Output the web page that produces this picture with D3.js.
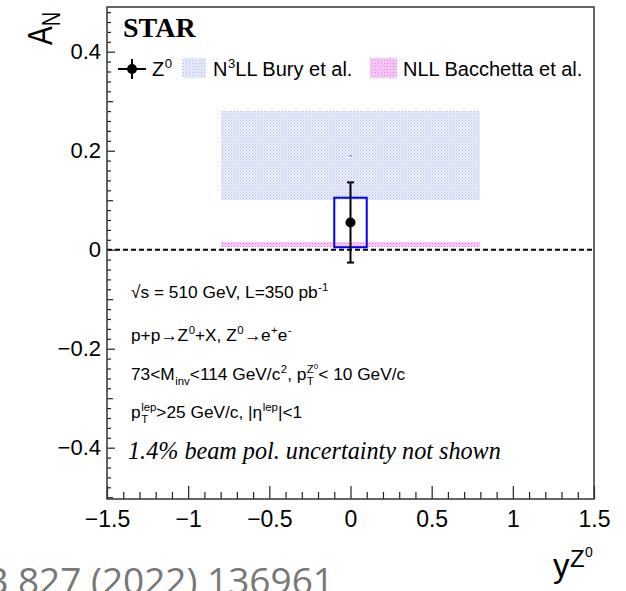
<!DOCTYPE html>
<html>
<head>
<meta charset="utf-8">
<script src="https://cdn.jsdelivr.net/npm/d3@7"></script>
<style>
  html, body { margin: 0; padding: 0; background: #fff; }
  svg { display: block; }
</style>
</head>
<body>
<svg id="chart" width="626" height="591"></svg>
<script>
// Z0 transverse single-spin asymmetry vs boson rapidity
const rapidity   = [0];
const asymmetry  = [0.055];
const statError  = [0.081];
const sysError   = [0.05];
const binHalf    = [0.1];

// theory bands: [yMin, yMax] in rapidity, [low, high] in A_N
const buryRange       = [-0.8, 0.8];
const buryBand        = [0.10, 0.28];
const buryCentral     = [0.19];
const bacchettaRange  = [-0.8, 0.8];
const bacchettaBand   = [0.005, 0.015];

const xMajorTicks = [-1.5, -1, -0.5, 0, 0.5, 1, 1.5];
const yMajorTicks = [-0.4, -0.2, 0, 0.2, 0.4];

const svg = d3.select("#chart");
const frame = { left: 107, right: 594, top: 7, bottom: 499 };

const x = d3.scaleLinear().domain([-1.5, 1.5]).range([frame.left, frame.right]);
const y = d3.scaleLinear().domain([-0.4, 0.4]).range([447.7, 51.7]);

// fill patterns for the model bands
const defs = svg.append("defs");
function dotPattern(id, bg, dot) {
  const p = defs.append("pattern").attr("id", id)
    .attr("width", 3).attr("height", 3).attr("patternUnits", "userSpaceOnUse");
  p.append("rect").attr("width", 3).attr("height", 3).attr("fill", bg);
  p.append("rect").attr("x", 0).attr("y", 0).attr("width", 1).attr("height", 1).attr("fill", dot);
  p.append("rect").attr("x", 1.5).attr("y", 1.5).attr("width", 1).attr("height", 1).attr("fill", dot);
}
dotPattern("buryFill", "#eef1fd", "#a9b7f3");
dotPattern("bacFill", "#fbd6fb", "#f06cf0");

const plot = svg.append("g");

// Bury et al. band
plot.append("rect")
  .attr("x", x(buryRange[0])).attr("width", x(buryRange[1]) - x(buryRange[0]))
  .attr("y", y(buryBand[1])).attr("height", y(buryBand[0]) - y(buryBand[1]))
  .attr("fill", "url(#buryFill)").attr("shape-rendering", "crispEdges");
plot.append("line")
  .attr("x1", x(0) - 1).attr("x2", x(0) + 1)
  .attr("y1", y(buryCentral[0])).attr("y2", y(buryCentral[0]))
  .attr("stroke", "#3a55e0").attr("stroke-width", 1);

// Bacchetta et al. band
plot.append("rect")
  .attr("x", x(bacchettaRange[0])).attr("width", x(bacchettaRange[1]) - x(bacchettaRange[0]))
  .attr("y", y(bacchettaBand[1])).attr("height", y(bacchettaBand[0]) - y(bacchettaBand[1]))
  .attr("fill", "url(#bacFill)").attr("shape-rendering", "crispEdges");

// zero line
plot.append("line")
  .attr("x1", frame.left).attr("x2", frame.right)
  .attr("y1", y(0)).attr("y2", y(0))
  .attr("stroke", "#000").attr("stroke-width", 2).attr("stroke-dasharray", "5,3");

// systematic box
plot.selectAll(".sys").data(rapidity).join("rect")
  .attr("x", (d, i) => x(d - binHalf[i]))
  .attr("width", (d, i) => x(d + binHalf[i]) - x(d - binHalf[i]))
  .attr("y", (d, i) => y(asymmetry[i] + sysError[i]))
  .attr("height", (d, i) => y(asymmetry[i] - sysError[i]) - y(asymmetry[i] + sysError[i]))
  .attr("fill", "none").attr("stroke", "#0000ff").attr("stroke-width", 2);

// statistical error bars
const pts = plot.selectAll(".pt").data(rapidity).join("g");
pts.append("line")
  .attr("x1", d => x(d)).attr("x2", d => x(d))
  .attr("y1", (d, i) => y(asymmetry[i] + statError[i]))
  .attr("y2", (d, i) => y(asymmetry[i] - statError[i]))
  .attr("stroke", "#000").attr("stroke-width", 2);
[1, -1].forEach(s => {
  pts.append("line")
    .attr("x1", d => x(d) - 3.5).attr("x2", d => x(d) + 3.5)
    .attr("y1", (d, i) => y(asymmetry[i] + s * statError[i]))
    .attr("y2", (d, i) => y(asymmetry[i] + s * statError[i]))
    .attr("stroke", "#000").attr("stroke-width", 2);
});
pts.append("circle")
  .attr("cx", d => x(d)).attr("cy", (d, i) => y(asymmetry[i]))
  .attr("r", 5).attr("fill", "#000");

// axes (ticks pointing inside the frame)
const fmt = d3.format("~g");
const xMinor = d3.range(-15, 16).map(v => v / 10).filter(v => !xMajorTicks.some(m => Math.abs(m - v) < 1e-9));
const yMid = [-0.5, -0.3, -0.1, 0.1, 0.3];
const yMinor = d3.range(-25, 25).map(v => v / 50)
  .filter(v => v >= -0.5 && v <= 0.49)
  .filter(v => !yMajorTicks.concat(yMid).some(m => Math.abs(m - v) < 1e-9));

function styleAxis(g, size) {
  g.select(".domain").remove();
  g.selectAll("line").attr("stroke", "#222").attr("stroke-width", 1.2);
  g.selectAll("text").attr("font-size", size).attr("fill", "#000")
    .attr("font-family", "'Liberation Sans', Arial, Helvetica, sans-serif");
}

svg.append("g").attr("transform", `translate(0,${frame.bottom})`)
  .call(d3.axisBottom(x).tickValues(xMajorTicks).tickSize(-13).tickPadding(12).tickFormat(fmt))
  .call(g => styleAxis(g, 23));
svg.append("g").attr("transform", `translate(0,${frame.bottom})`)
  .call(d3.axisBottom(x).tickValues(xMinor).tickSize(-7).tickFormat(""))
  .call(g => styleAxis(g, 0));

svg.append("g").attr("transform", `translate(${frame.left},0)`)
  .call(d3.axisLeft(y).tickValues(yMajorTicks).tickSize(-8).tickPadding(6).tickFormat(fmt))
  .call(g => styleAxis(g, 22));
svg.append("g").attr("transform", `translate(${frame.left},0)`)
  .call(d3.axisLeft(y).tickValues(yMid).tickSize(-6).tickFormat(""))
  .call(g => styleAxis(g, 0));
svg.append("g").attr("transform", `translate(${frame.left},0)`)
  .call(d3.axisLeft(y).tickValues(yMinor).tickSize(-4).tickFormat(""))
  .call(g => styleAxis(g, 0));

// frame
svg.append("rect")
  .attr("x", frame.left).attr("y", frame.top)
  .attr("width", frame.right - frame.left).attr("height", frame.bottom - frame.top)
  .attr("fill", "none").attr("stroke", "#333").attr("stroke-width", 1.5);

// rich text with sub/superscripts laid out segment by segment
function rich(g, x0, yb, segs, size, family) {
  let cx = x0;
  const put = (txt, px, py, fs) => {
    const t = g.append("text").attr("x", px).attr("y", py)
      .attr("font-size", fs).attr("font-family", family).attr("fill", "#000").text(txt);
    return t.node().getComputedTextLength();
  };
  const ss = size * 0.66;
  segs.forEach(s => {
    if (typeof s === "string") {
      cx += put(s, cx, yb, size);
    } else {
      let w = 0;
      if (s.sup !== undefined) {
        let w1 = put(s.sup, cx + 0.5, yb - size * 0.42, ss);
        if (s.sup2 !== undefined) w1 += put(s.sup2, cx + 0.5 + w1, yb - size * 0.62, ss * 0.7);
        w = Math.max(w, w1 + 0.5);
      }
      if (s.sub !== undefined) w = Math.max(w, put(s.sub, cx + 0.5, yb + size * 0.3, ss) + 0.5);
      cx += w;
    }
  });
  return cx;
}
const SANS = "'Liberation Sans', Arial, Helvetica, sans-serif";
const SERIF = "'Liberation Serif', 'Times New Roman', serif";

// experiment label
svg.append("text").attr("x", 123).attr("y", 37)
  .attr("font-family", SERIF).attr("font-weight", "bold").attr("font-size", 28)
  .text("STAR");

// legend
const leg = svg.append("g");
leg.append("line").attr("x1", 118).attr("x2", 146).attr("y1", 69).attr("y2", 69)
  .attr("stroke", "#000").attr("stroke-width", 2);
leg.append("line").attr("x1", 132).attr("x2", 132).attr("y1", 59).attr("y2", 79)
  .attr("stroke", "#000").attr("stroke-width", 2);
leg.append("circle").attr("cx", 132).attr("cy", 69).attr("r", 5).attr("fill", "#000");
rich(leg, 152, 76, ["Z", { sup: "0" }], 20, SANS);
leg.append("rect").attr("x", 182).attr("y", 58).attr("width", 24).attr("height", 20)
  .attr("fill", "url(#buryFill)").attr("shape-rendering", "crispEdges");
rich(leg, 213, 76, ["N", { sup: "3" }, "LL Bury et al."], 20, SANS);
leg.append("rect").attr("x", 370).attr("y", 58).attr("width", 27).attr("height", 20)
  .attr("fill", "url(#bacFill)").attr("shape-rendering", "crispEdges");
rich(leg, 403, 76, ["NLL Bacchetta et al."], 20, SANS);

// kinematic annotations
const ann = svg.append("g");
rich(ann, 131, 298, ["\u221As = 510 GeV, L=350 pb", { sup: "-1" }], 17.3, SANS);
rich(ann, 131, 341, ["p+p\u2192Z", { sup: "0" }, "+X, Z", { sup: "0" }, "\u2192e", { sup: "+" }, "e", { sup: "-" }], 17.3, SANS);
rich(ann, 131, 380, ["73<M", { sub: "inv" }, "<114 GeV/c", { sup: "2" }, ", p", { sub: "T", sup: "Z", sup2: "0" }, " < 10 GeV/c"], 17.3, SANS);
rich(ann, 131, 418, ["p", { sub: "T", sup: "lep" }, ">25 GeV/c, |\u03B7", { sup: "lep" }, "|<1"], 17.3, SANS);
svg.append("text").attr("x", 128).attr("y", 459)
  .attr("font-family", SERIF).attr("font-style", "italic").attr("font-size", 24.2)
  .text("1.4% beam pol. uncertainty not shown");

// axis titles
const yt = svg.append("text")
  .attr("transform", "translate(52,45) rotate(-90) scale(1,1.25)")
  .attr("font-family", SANS).attr("font-size", 28);
yt.append("tspan").text("A");
yt.append("tspan").attr("font-size", 20).attr("dy", 6).text("N");

svg.append("text").attr("x", 553).attr("y", 577)
  .attr("font-family", SANS).attr("font-size", 33).text("y");
svg.append("text").attr("x", 570).attr("y", 567)
  .attr("font-family", SANS).attr("font-size", 24).text("Z");
svg.append("text").attr("x", 585).attr("y", 557)
  .attr("font-family", SANS).attr("font-size", 14).text("0");

// journal reference
svg.append("text").attr("x", 334).attr("y", 594)
  .attr("text-anchor", "end")
  .attr("font-family", "'Open Sans', 'Noto Sans', sans-serif").attr("font-size", 37)
  .attr("fill", "#777").text("Phys. Lett. B 827 (2022) 136961");
</script>
</body>
</html>
